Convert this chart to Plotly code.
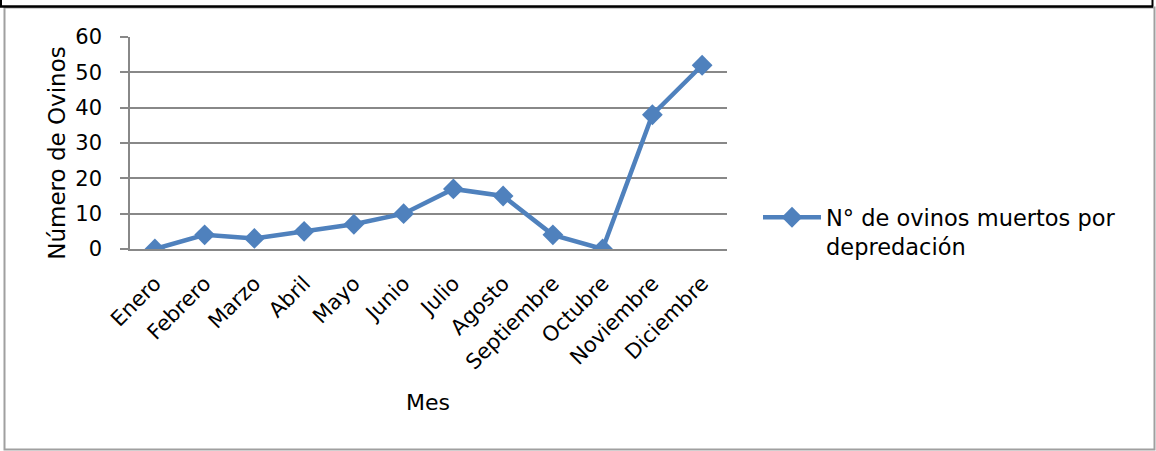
import plotly.graph_objects as go

meses = ["Enero", "Febrero", "Marzo", "Abril", "Mayo", "Junio", "Julio",
         "Agosto", "Septiembre", "Octubre", "Noviembre", "Diciembre"]
ovinos_muertos = [0, 4, 3, 5, 7, 10, 17, 15, 4, 0, 38, 52]
serie_nombre = "N° de ovinos muertos por<br>depredación"
titulo_x = "Mes"
titulo_y = "Número de Ovinos"
y_ticks = [0, 10, 20, 30, 40, 50, 60]

W, H = 1156, 451
L, R, T, B = 130, 727, 36.5, 249  # plot area in pixels

def px(x):
    return (x - L) / (R - L)

def py(y):
    return (B - y) / (B - T)

FONT = "DejaVu Sans"
BLUE = "#4F81BD"
GRID = "#888888"

fig = go.Figure()
fig.add_trace(go.Scatter(
    x=meses, y=ovinos_muertos, name=serie_nombre, mode="lines+markers",
    line=dict(color=BLUE, width=4.5),
    marker=dict(symbol="diamond", size=16, color=BLUE),
))

shapes = [
    dict(type="rect", xref="paper", yref="paper", x0=px(4.5), x1=px(1154.5),
         y0=py(450), y1=py(7), line=dict(color="#A0A0A0", width=2)),
    dict(type="line", xref="paper", yref="paper", x0=px(0), x1=px(1153),
         y0=py(6), y1=py(6), line=dict(color="black", width=2.5)),
    dict(type="line", xref="paper", yref="paper", x0=px(1152.5), x1=px(1152.5),
         y0=py(-2), y1=py(6), line=dict(color="black", width=2)),
    dict(type="line", xref="paper", yref="paper", x0=px(1), x1=px(1),
         y0=py(-2), y1=py(6), line=dict(color="black", width=2)),
]

annotations = [
    dict(text=titulo_y, xref="paper", yref="paper", x=px(57), y=py(153.5),
         xanchor="center", yanchor="middle", textangle=-90, showarrow=False,
         font=dict(size=23)),
    dict(text=titulo_x, xref="paper", yref="paper", x=px(428), y=py(403),
         xanchor="center", yanchor="middle", showarrow=False,
         font=dict(size=22)),
]

fig.update_layout(
    width=W, height=H,
    margin=dict(l=L, r=W - R, t=T, b=H - B, pad=0),
    paper_bgcolor="white", plot_bgcolor="white",
    font=dict(family=FONT, color="black", size=20),
    showlegend=True,
    legend=dict(x=px(758), y=py(196), xanchor="left", yanchor="top",
                font=dict(family=FONT, size=22.5), itemwidth=58, valign="top",
                bgcolor="rgba(0,0,0,0)", tracegroupgap=0),
    xaxis=dict(
        type="category", range=[-0.5, 11.5], showgrid=False,
        showline=True, linecolor=GRID, linewidth=1.5,
        ticks="", tickangle=-45, tickfont=dict(size=21),
        ticklabelstandoff=12, fixedrange=True,
    ),
    yaxis=dict(
        range=[0, 60], tickvals=y_ticks, showgrid=True, gridcolor=GRID,
        gridwidth=1.5, showline=True, linecolor=GRID, linewidth=1.5,
        ticks="outside", ticklen=8, tickcolor=GRID, tickwidth=1.5,
        tickfont=dict(size=21), zeroline=False, ticklabelstandoff=14,
    ),
    shapes=shapes,
    annotations=annotations,
)

fig.write_html("out.html")
